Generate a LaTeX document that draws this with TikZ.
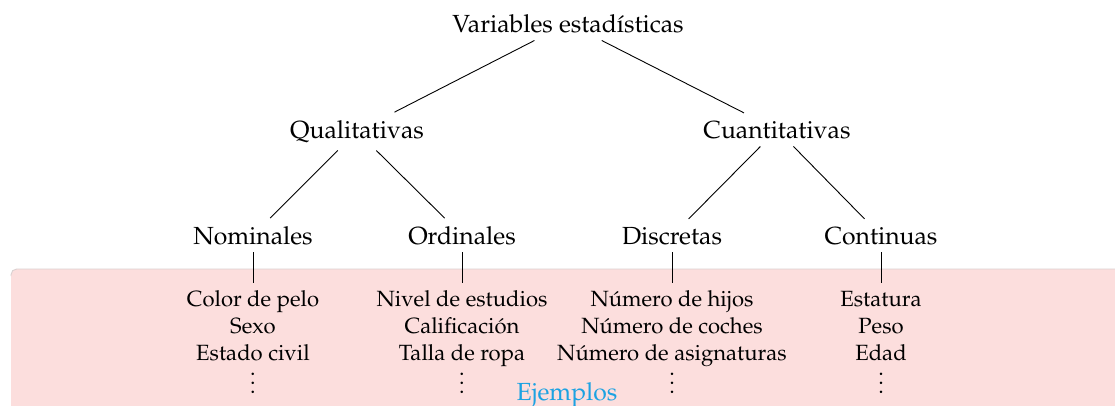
\documentclass[tikz,border=0pt]{standalone}
\usepackage[T1]{fontenc}
\usepackage{mathpazo}
\definecolor{boxpink}{RGB}{252,222,221}
\definecolor{boxline}{RGB}{218,208,208}
\definecolor{ejblue}{RGB}{28,162,226}
\newcommand{\mydots}{\\[2.6pt]\smash{$\vdots$}}
\begin{document}
\begin{tikzpicture}[x=0.4444pt,y=-0.4444pt,
  lbl/.style={font=\fontsize{11}{13}\selectfont, inner sep=3.33pt},
  ex/.style={font=\fontsize{9.8}{12}\selectfont, align=center, anchor=north, inner sep=3.33pt},
  edge/.style={draw=black, line width=0.4pt}]
\useasboundingbox (0,0) rectangle (1115,405);
% background box
\fill[boxpink, rounded corners=2.5pt] (11,269) rectangle (1140,440);
\draw[boxline, line width=0.4pt, rounded corners=2.5pt] (11,276) -- (11,269) -- (1140,269);
\node[lbl, anchor=base, text=ejblue] (ej) at (567,400) {Ejemplos};
% tree nodes
\node[lbl, anchor=base] (root) at (568,32) {Variables estad\'{\i}sticas};
\node[lbl, anchor=base] (qual) at (357,138) {Qualitativas};
\node[lbl, anchor=base] (cuan) at (777,138) {Cuantitativas};
\node[lbl, anchor=base] (nom) at (253,244) {Nominales};
\node[lbl, anchor=base] (ord) at (462,244) {Ordinales};
\node[lbl, anchor=base] (dis) at (672,244) {Discretas};
\node[lbl, anchor=base] (con) at (881,244) {Continuas};
% examples
\node[ex] (nomex) at (253,283) {Color de pelo\\Sexo\\Estado civil\mydots};
\node[ex] (ordex) at (462,283) {Nivel de estudios\\Calificaci\'on\\Talla de ropa\mydots};
\node[ex] (disex) at (672,283) {N\'umero de hijos\\N\'umero de coches\\N\'umero de asignaturas\mydots};
\node[ex] (conex) at (881,283) {Estatura\\Peso\\Edad\mydots};
% connectors
\draw[edge] (root) -- (qual);
\draw[edge] (root) -- (cuan);
\draw[edge] (qual) -- (nom);
\draw[edge] (qual) -- (ord);
\draw[edge] (cuan) -- (dis);
\draw[edge] (cuan) -- (con);
\draw[edge] (nom) -- (nomex.north);
\draw[edge] (ord) -- (ordex.north);
\draw[edge] (dis) -- (disex.north);
\draw[edge] (con) -- (conex.north);
\end{tikzpicture}
\end{document}
